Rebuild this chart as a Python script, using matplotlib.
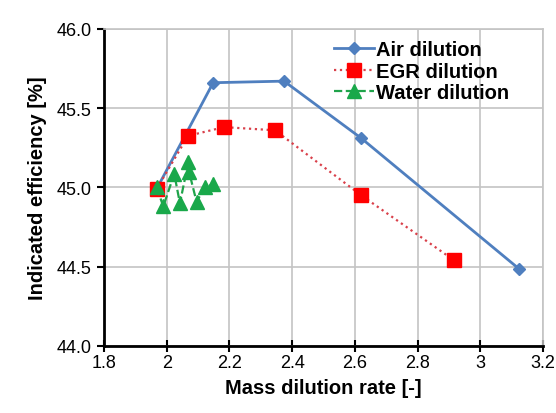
import matplotlib
matplotlib.use("Agg")
import matplotlib.pyplot as plt

plt.rcParams['font.family'] = ['Liberation Sans', 'DejaVu Sans']

# Air dilution
air_x = [1.968, 2.148, 2.374, 2.620, 3.123]
air_y = [44.99, 45.66, 45.67, 45.31, 44.486]

# EGR dilution
egr_x = [1.968, 2.068, 2.183, 2.345, 2.620, 2.916]
egr_y = [44.99, 45.325, 45.38, 45.36, 44.95, 44.54]

# Water dilution
water_x = [1.968, 1.989, 2.024, 2.042, 2.069, 2.071, 2.095, 2.122, 2.148]
water_y = [45.00, 44.88, 45.085, 44.90, 45.16, 45.10, 44.91, 45.00, 45.02]

xticks = [1.8, 2.0, 2.2, 2.4, 2.6, 2.8, 3.0, 3.2]
xtick_labels = ["1.8", "2", "2.2", "2.4", "2.6", "2.8", "3", "3.2"]
yticks = [44.0, 44.5, 45.0, 45.5, 46.0]

fig = plt.figure(figsize=(5.56, 4.14), dpi=100)
ax = fig.add_axes([0.187, 0.162, 0.79, 0.766])

ax.plot(air_x, air_y, color='#4f7fbf', lw=2, marker='D', ms=6.5,
        label='Air dilution', zorder=3)
ax.plot(egr_x, egr_y, color='#d9404a', lw=1.6, ls=':', marker='s', ms=10,
        mfc='#ff0000', mec='#ff0000', label='EGR dilution', zorder=4)
ax.plot(water_x, water_y, color='#1fa34a', lw=1.6, ls='--', marker='^', ms=9.5,
        mfc='#19a84a', mec='#19a84a', label='Water dilution', zorder=5)

ax.set_xlim(1.8, 3.2)
ax.set_ylim(44.0, 46.0)
ax.set_xticks(xticks)
ax.set_xticklabels(xtick_labels)
ax.set_yticks(yticks)
ax.set_yticklabels(["%.1f" % v for v in yticks])

ax.grid(True, color='#c4c4c4', lw=1.2)
ax.set_axisbelow(True)
for side in ['top', 'right']:
    ax.spines[side].set_color('#c4c4c4')
    ax.spines[side].set_linewidth(1.2)
for side in ['left', 'bottom']:
    ax.spines[side].set_color('black')
    ax.spines[side].set_linewidth(2)

ax.tick_params(axis='x', direction='inout', length=8, width=1.5, labelsize=13, pad=2)
ax.tick_params(axis='y', direction='out', length=5, width=1.5, labelsize=13, pad=4)

ax.set_xlabel("Mass dilution rate [-]", fontsize=14.5, fontweight='bold', labelpad=5)
ax.set_ylabel("Indicated efficiency [%]", fontsize=14.5, fontweight='bold', labelpad=7)

ax.legend(loc='upper right', bbox_to_anchor=(0.96, 1.015), frameon=False,
          prop={'weight': 'bold', 'size': 14.5},
          handlelength=2.0, handletextpad=0.1, labelspacing=0.12, borderpad=0.3)

fig.savefig("out.png", dpi=100, facecolor='white')
